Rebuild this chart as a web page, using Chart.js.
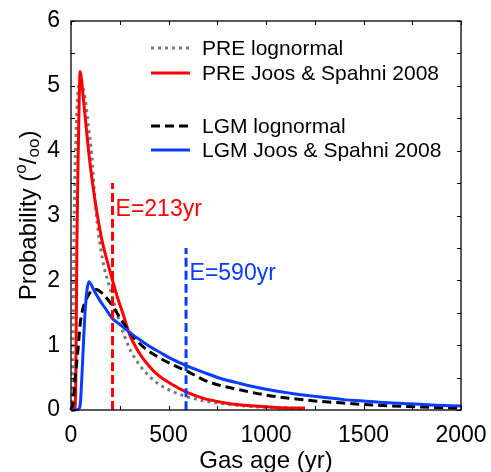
<!DOCTYPE html>
<html>
<head>
<meta charset="utf-8">
<script src="https://cdn.jsdelivr.net/npm/chart.js@4/dist/chart.umd.min.js"></script>
<style>
  html, body { margin: 0; padding: 0; background: #fff; }
  #wrap { width: 491px; height: 472px; }
</style>
</head>
<body>
<div id="wrap"><canvas id="c" width="491" height="472"></canvas></div>
<script>
// Gas age distributions (probability in per mille vs gas age in years)

// PRE lognormal
const preLogAge = [0, 6, 10, 15, 20, 30, 40, 50, 60, 75, 90, 106, 120, 140, 170, 200, 250, 300, 350, 405, 450, 510, 600, 700, 800, 900, 1000, 1100, 1200];
const preLogProb = [0, 0.2, 1.0, 2.6, 3.6, 4.6, 5.0, 5.06, 4.98, 4.75, 4.35, 3.95, 3.35, 2.75, 2.2, 1.88, 1.35, 0.95, 0.7, 0.51, 0.4, 0.3, 0.2, 0.13, 0.09, 0.06, 0.04, 0.03, 0.02];

// PRE Joos & Spahni 2008
const preJSAge = [0, 18, 24, 30, 36, 42, 47, 53, 62, 75, 90, 108, 130, 160, 190, 213, 240, 265, 300, 350, 400, 450, 510, 590, 680, 770, 860, 950, 1050, 1200];
const preJSProb = [0, 0, 0.3, 2.5, 3.8, 4.8, 5.22, 5.12, 4.85, 4.45, 4.0, 3.55, 3.1, 2.6, 2.25, 2.0, 1.72, 1.5, 1.17, 0.88, 0.68, 0.53, 0.41, 0.28, 0.18, 0.12, 0.08, 0.06, 0.04, 0.03];

// LGM lognormal
const lgmLogAge = [0, 10, 20, 30, 37, 46, 60, 80, 100, 130, 160, 190, 216, 260, 319, 380, 456, 520, 594, 677, 764, 867, 1000, 1123, 1250, 1380, 1500, 1636, 1800, 2000];
const lgmLogProb = [0, 0.1, 0.45, 0.75, 0.97, 1.3, 1.55, 1.72, 1.82, 1.86, 1.8, 1.7, 1.59, 1.38, 1.13, 0.95, 0.8, 0.7, 0.6, 0.47, 0.38, 0.31, 0.23, 0.18, 0.14, 0.11, 0.085, 0.065, 0.045, 0.03];

// LGM Joos & Spahni 2008
const lgmJSAge = [0, 20, 40, 48, 55, 65, 72, 82, 92, 120, 150, 180, 210, 250, 287, 330, 369, 420, 456, 508, 594, 680, 764, 867, 1000, 1123, 1250, 1400, 1500, 1636, 1738, 1870, 2000];
const lgmJSProb = [0, 0, 0.02, 0.1, 0.46, 1.1, 1.5, 1.85, 1.98, 1.83, 1.68, 1.55, 1.42, 1.32, 1.23, 1.13, 1.05, 0.95, 0.89, 0.8, 0.68, 0.58, 0.49, 0.41, 0.32, 0.26, 0.21, 0.16, 0.14, 0.11, 0.095, 0.075, 0.06];

// Mean gas ages and the heights of their marker lines
const preMeanAge = 213;
const lgmMeanAge = 590;
const preMarkerTop = 3.5;
const lgmMarkerTop = 2.5;

const xTicks = [0, 500, 1000, 1500, 2000];
const yTicks = [0, 1, 2, 3, 4, 5, 6];

const FONT = '"Liberation Sans", Arial, Helvetica, sans-serif';
const RED = '#ff0000';
const BLUE = '#0a3cff';
const GRAY = '#7a7a7a';

const pts = (xs, ys) => xs.map((x, i) => ({ x: x, y: ys[i] }));

const datasets = [
  { label: 'PRE lognormal', data: pts(preLogAge, preLogProb), borderColor: GRAY, borderWidth: 3, borderDash: [3, 4], order: 6 },
  { label: 'PRE Joos & Spahni 2008', data: pts(preJSAge, preJSProb), borderColor: RED, borderWidth: 3, order: 5 },
  { label: 'LGM lognormal', data: pts(lgmLogAge, lgmLogProb), borderColor: '#000', borderWidth: 3, borderDash: [9, 5], order: 4 },
  { label: 'LGM Joos & Spahni 2008', data: pts(lgmJSAge, lgmJSProb), borderColor: BLUE, borderWidth: 3, order: 3 },
  { label: 'E pre', data: [{ x: preMeanAge, y: 0 }, { x: preMeanAge, y: preMarkerTop }], borderColor: RED, borderWidth: 3, borderDash: [9, 4], order: 2 },
  { label: 'E lgm', data: [{ x: lgmMeanAge, y: 0 }, { x: lgmMeanAge, y: lgmMarkerTop }], borderColor: BLUE, borderWidth: 3, borderDash: [9, 4], order: 1 }
];
datasets.forEach(d => {
  d.pointRadius = 0;
  d.fill = false;
  d.clip = false;
  d.cubicInterpolationMode = 'monotone';
  d.borderCapStyle = 'butt';
});

// Frame with inward ticks on all four sides
const framePlugin = {
  id: 'frame',
  afterDatasetsDraw(chart) {
    const { ctx, chartArea: a, scales } = chart;
    const xs = scales.x, ys = scales.y;
    ctx.save();
    ctx.strokeStyle = '#000';
    ctx.lineWidth = 1.3;
    ctx.strokeRect(a.left, a.top, a.right - a.left, a.bottom - a.top);
    ctx.lineWidth = 1;
    const tl = 4;
    ctx.beginPath();
    for (let v = 0; v <= 2000; v += 250) {
      const px = Math.round(xs.getPixelForValue(v)) + 0.5;
      ctx.moveTo(px, a.bottom); ctx.lineTo(px, a.bottom - tl);
      ctx.moveTo(px, a.top); ctx.lineTo(px, a.top + tl);
    }
    for (let v = 0; v <= 6; v += 0.5) {
      const py = Math.round(ys.getPixelForValue(v)) + 0.5;
      ctx.moveTo(a.left, py); ctx.lineTo(a.left + tl, py);
      ctx.moveTo(a.right, py); ctx.lineTo(a.right - tl, py);
    }
    ctx.stroke();
    ctx.restore();
  }
};

// Legend, mean-age labels and axis titles
const annotatePlugin = {
  id: 'annotate',
  afterDraw(chart) {
    const { ctx, scales } = chart;
    const xs = scales.x, ys = scales.y;
    ctx.save();

    // legend
    const rows = [48, 73, 126, 150];
    const series = chart.data.datasets.slice(0, 4);
    ctx.font = '21px ' + FONT;
    ctx.textBaseline = 'middle';
    ctx.textAlign = 'left';
    series.forEach((d, i) => {
      ctx.save();
      ctx.strokeStyle = d.borderColor;
      ctx.lineWidth = 3;
      ctx.setLineDash(d.borderDash || []);
      ctx.beginPath();
      ctx.moveTo(151, rows[i]);
      ctx.lineTo(190, rows[i]);
      ctx.stroke();
      ctx.restore();
      ctx.fillStyle = '#000';
      ctx.fillText(d.label, 202, rows[i] + 1);
    });

    // mean age labels
    ctx.font = '23px ' + FONT;
    ctx.textBaseline = 'alphabetic';
    ctx.fillStyle = RED;
    ctx.fillText('E=' + preMeanAge + 'yr', xs.getPixelForValue(preMeanAge) + 3, ys.getPixelForValue(3.0));
    ctx.fillStyle = BLUE;
    ctx.fillText('E=' + lgmMeanAge + 'yr', xs.getPixelForValue(lgmMeanAge) + 3.5, ys.getPixelForValue(2.0));

    // x title
    ctx.fillStyle = '#000';
    ctx.font = '24px ' + FONT;
    ctx.textAlign = 'center';
    ctx.fillText('Gas age (yr)', (chart.chartArea.left + chart.chartArea.right) / 2, 468);

    // y title: Probability (°/oo) with raised and lowered o's
    const big = '24px ' + FONT, small = '17px ' + FONT;
    const parts = [
      { t: 'Probability (', f: big, dy: 0 },
      { t: 'o', f: small, dy: -10 },
      { t: '/', f: big, dy: 0 },
      { t: 'oo', f: small, dy: 3 },
      { t: ')', f: big, dy: 0 }
    ];
    let total = 0;
    parts.forEach(p => { ctx.font = p.f; p.w = ctx.measureText(p.t).width; total += p.w; });
    ctx.translate(36, (chart.chartArea.top + chart.chartArea.bottom) / 2);
    ctx.rotate(-Math.PI / 2);
    ctx.textAlign = 'left';
    let cx = -total / 2;
    parts.forEach(p => {
      ctx.font = p.f;
      ctx.fillText(p.t, cx, p.dy);
      cx += p.w;
    });
    ctx.restore();
  }
};

new Chart(document.getElementById('c'), {
  type: 'line',
  data: { datasets: datasets },
  options: {
    responsive: false,
    devicePixelRatio: 1,
    animation: false,
    events: [],
    layout: { padding: { top: 21, right: 30, left: 0, bottom: 0 } },
    plugins: { legend: { display: false }, tooltip: { enabled: false } },
    scales: {
      x: {
        type: 'linear', min: 0, max: 2000,
        afterBuildTicks: s => { s.ticks = xTicks.map(v => ({ value: v })); },
        ticks: { color: '#000', font: { family: FONT, size: 23 }, padding: 12, maxRotation: 0, callback: v => String(v) },
        grid: { display: false, drawTicks: false },
        border: { display: false },
        afterFit: s => { s.height = 62; s.paddingLeft = 0; s.paddingRight = 0; }
      },
      y: {
        type: 'linear', min: 0, max: 6,
        afterBuildTicks: s => { s.ticks = yTicks.map(v => ({ value: v })); },
        ticks: { color: '#000', font: { family: FONT, size: 23 }, padding: 11, callback: v => String(v) },
        grid: { display: false, drawTicks: false },
        border: { display: false },
        afterFit: s => { s.width = 71; s.paddingTop = 0; s.paddingBottom = 0; }
      }
    }
  },
  plugins: [framePlugin, annotatePlugin]
});
</script>
</body>
</html>
